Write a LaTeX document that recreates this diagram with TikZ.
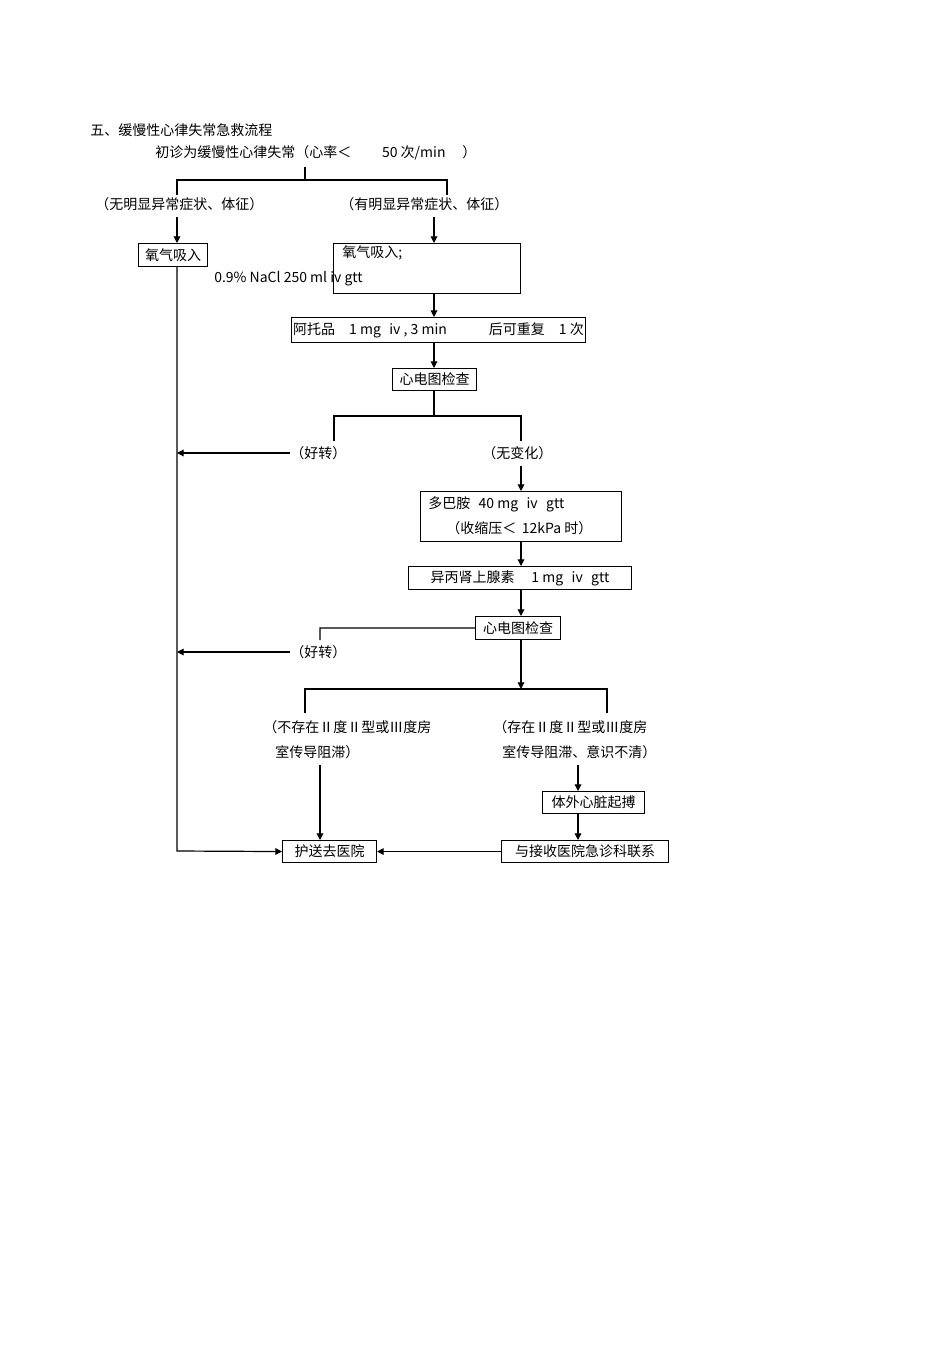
\documentclass[tikz,border=0pt]{standalone}
\usepackage{fontspec}
\setmainfont{Noto Sans CJK SC}
\usetikzlibrary{arrows.meta}
\tikzset{
  box/.style={draw, line width=0.8pt, anchor=north west, inner xsep=1pt, inner ysep=0pt, align=left},
  txt/.style={inner sep=0pt, anchor=west},
  arr/.style={line width=0.9pt, -{Triangle[length=5pt,width=5pt]}},
  ln/.style={line width=0.9pt},
}
\begin{document}
\begin{tikzpicture}[x=0.75pt,y=-0.75pt,font=\fontsize{10.5}{12}\selectfont]
\useasboundingbox (0,0) rectangle (950,1345);

% Title
\node[txt] (title) at (90,130) {五、缓慢性心律失常急救流程};
\node[txt] (start) at (155,153) {初诊为缓慢性心律失常（心率＜\hspace{2.2em}50 次/min\hspace{1.2em}）};

% first split
\coordinate (s0) at (305,167);
\coordinate (s1) at (305,180);
\coordinate (sl) at (177,180);
\coordinate (sr) at (447,180);
\coordinate (sl2) at (177,195);
\coordinate (sr2) at (447,195);
\draw[ln] (s0) -- (s1);
\draw[ln] (sl2) -- (sl) -- (sr) -- (sr2);
\node[txt] (noSym) at (95,204) {（无明显异常症状、体征）};
\node[txt] (sym) at (340,204) {（有明显异常症状、体征）};

% boxes left column / right column
\node[box, minimum width=51.75pt, minimum height=17.25pt] (oxyL) at (138,243) {氧气吸入};
\node[box, minimum width=140.25pt, minimum height=37.5pt] (oxyR) at (333,243) {};
\node[txt] (oxyT) at (342,253) {氧气吸入;};
\node[txt] (nacl) at (214,279) {0.9\% NaCl 250 ml iv gtt};
\node[box, minimum width=220.5pt, minimum height=18.75pt] (atro) at (291,317) {阿托品\hspace{1em}1 mg\hspace{0.6em}iv , 3 min\hspace{3em}后可重复\hspace{1em}1 次};
\node[box, minimum width=63pt, minimum height=16.5pt] (ecg1) at (392,368) {心电图检查};

\coordinate (a1) at (177,217);
\coordinate (a2) at (434,217);
\draw[arr] (a1) -- (oxyL.north -| a1);
\draw[arr] (a2) -- (oxyR.north -| a2);
\draw[arr] (oxyR.south -| a2) -- (atro.north -| a2);
\draw[arr] (atro.south -| a2) -- (ecg1.north -| a2);

% second split
\coordinate (b1) at (434,416);
\coordinate (bl) at (334,416);
\coordinate (br) at (521,416);
\coordinate (bl2) at (334,441);
\coordinate (br2) at (521,441);
\draw[ln] (ecg1.south -| b1) -- (b1);
\draw[ln] (bl2) -- (bl) -- (br) -- (br2);
\node[txt] (better1) at (290,453) {（好转）};
\node[txt] (nochg) at (482,453) {（无变化）};
\coordinate (trunk1) at (177,453);
\draw[arr] (better1.west) -- (trunk1);

\node[box, minimum width=150.75pt, minimum height=37.5pt] (dopa) at (420,491) {};
\node[txt] (dopaT) at (428,504) {多巴胺\hspace{0.6em}40 mg\hspace{0.6em}iv\hspace{0.6em}gtt};
\node[txt] (dopaT2) at (446,528) {（收缩压＜\hspace{0.4em}12kPa 时）};
\node[box, minimum width=167.25pt, minimum height=17.25pt] (iso) at (408,566) {异丙肾上腺素\hspace{1.2em}1 mg\hspace{0.6em}iv\hspace{0.6em}gtt};
\node[box, minimum width=63.75pt, minimum height=17.25pt] (ecg2) at (475,616) {心电图检查};

\coordinate (c1) at (521,466);
\draw[arr] (c1) -- (dopa.north -| c1);
\draw[arr] (dopa.south -| c1) -- (iso.north -| c1);
\draw[arr] (iso.south -| c1) -- (ecg2.north -| c1);

% better after second ECG
\coordinate (d1) at (320,628);
\coordinate (d2) at (320,640);
\draw[ln] (ecg2.west) -- (d1) -- (d2);
\node[txt] (better2) at (290,652) {（好转）};
\coordinate (trunk2) at (177,652);
\draw[arr] (better2.west) -- (trunk2);

% third split
\coordinate (e1) at (521,689);
\coordinate (el) at (305,689);
\coordinate (er) at (607,689);
\coordinate (el2) at (305,713);
\coordinate (er2) at (607,713);
\draw[arr] (ecg2.south -| e1) -- (e1);
\draw[ln] (el2) -- (el) -- (er) -- (er2);
\node[txt] (noBlk) at (263,727) {（不存在Ⅱ度Ⅱ型或Ⅲ度房};
\node[txt] (noBlk2) at (275,752) {室传导阻滞）};
\node[txt] (blk) at (493,727) {（存在Ⅱ度Ⅱ型或Ⅲ度房};
\node[txt] (blk2) at (502,752) {室传导阻滞、意识不清）};

\node[box, minimum width=76.5pt, minimum height=16.5pt] (pace) at (542,791) {体外心脏起搏};
\node[box, minimum width=125.25pt, minimum height=16.5pt] (contact) at (501,840) {与接收医院急诊科联系};
\node[box, minimum width=70.5pt, minimum height=16.5pt] (hosp) at (282,840) {护送去医院};

\coordinate (f1) at (320,765);
\coordinate (f2) at (578,765);
\draw[arr] (f1) -- (hosp.north -| f1);
\draw[arr] (f2) -- (pace.north -| f2);
\draw[arr] (pace.south -| f2) -- (contact.north -| f2);
\draw[arr] (contact.west) -- (hosp.east);

% left trunk
\coordinate (g1) at (177,851);
\draw[arr] (oxyL.south -| g1) -- (g1) -- (hosp.west);
\end{tikzpicture}
\end{document}
